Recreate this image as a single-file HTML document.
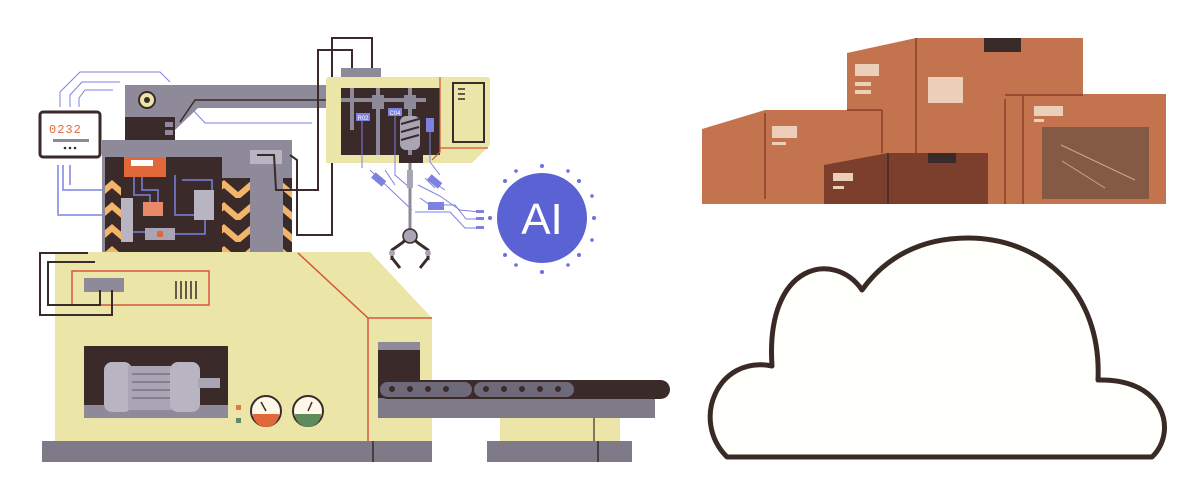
<!DOCTYPE html>
<html><head><meta charset="utf-8"><style>
html,body{margin:0;padding:0;background:#fff;width:1204px;height:500px;overflow:hidden}
svg{display:block}
</style></head><body>
<svg width="1204" height="500" viewBox="0 0 1204 500" xmlns="http://www.w3.org/2000/svg">
<defs>
<pattern id="haz" width="28" height="22" patternUnits="userSpaceOnUse">
<rect width="28" height="22" fill="#3a2a2a"/>
<path d="M0,4 L14,16 L28,4 L28,12 L14,24 L0,12Z" fill="#f2b56a"/>
</pattern>
</defs>
<!-- bases -->
<rect x="42" y="441" width="390" height="21" fill="#7e7a88"/>
<line x1="373" y1="441" x2="373" y2="462" stroke="#3a2a2a" stroke-width="1.5"/>
<rect x="487" y="441" width="145" height="21" fill="#7e7a88"/>
<line x1="598" y1="441" x2="598" y2="462" stroke="#3a2a2a" stroke-width="1.5"/>
<rect x="500" y="412" width="120" height="29" fill="#ebe5a8"/>
<line x1="594" y1="412" x2="594" y2="441" stroke="#3a2a2a" stroke-width="1.2"/>
<!-- main yellow body -->
<path d="M55,252 L370,252 L432,318 L432,441 L55,441Z" fill="#ebe5a8"/>
<path d="M298,253 L368,318 L432,318 M368,318 L368,441" stroke="#d4563a" stroke-width="1.5" fill="none"/>
<rect x="72" y="271" width="137" height="34" fill="none" stroke="#d4563a" stroke-width="1.5"/>
<rect x="84" y="278" width="40" height="14" fill="#8f8a99"/>
<g stroke="#3a2a2a" stroke-width="1.5"><line x1="176" y1="281" x2="176" y2="299"/><line x1="181" y1="281" x2="181" y2="299"/><line x1="186" y1="281" x2="186" y2="299"/><line x1="191" y1="281" x2="191" y2="299"/><line x1="196" y1="281" x2="196" y2="299"/></g>
<!-- motor window -->
<rect x="84" y="346" width="144" height="72" fill="#3a2a2a"/>
<rect x="84" y="405" width="144" height="13" fill="#8f8a99"/>
<rect x="104" y="362" width="28" height="50" rx="8" fill="#b8b4c2"/>
<rect x="128" y="366" width="52" height="44" fill="#a9a5b5"/>
<g stroke="#6e6a7a" stroke-width="1.2"><line x1="132" y1="374" x2="176" y2="374"/><line x1="132" y1="382" x2="176" y2="382"/><line x1="132" y1="390" x2="176" y2="390"/><line x1="132" y1="398" x2="176" y2="398"/></g>
<rect x="170" y="362" width="30" height="50" rx="8" fill="#b8b4c2"/>
<rect x="198" y="378" width="22" height="10" fill="#a9a5b5"/>
<rect x="236" y="405" width="5" height="5" fill="#e07a3a"/>
<rect x="236" y="418" width="5" height="5" fill="#5f8a6a"/>
<g stroke="#3a2a2a" stroke-width="2"><circle cx="266" cy="411" r="15" fill="#fff8e8"/><circle cx="308" cy="411" r="15" fill="#fff8e8"/></g>
<path d="M253,414 A13,13 0 0 0 279,414Z" fill="#e0683a"/>
<path d="M295,414 A13,13 0 0 0 321,414Z" fill="#5f8a5a"/>
<line x1="266" y1="411" x2="261" y2="402" stroke="#3a2a2a" stroke-width="1.5"/>
<line x1="308" y1="411" x2="312" y2="402" stroke="#3a2a2a" stroke-width="1.5"/>
<!-- conveyor opening -->
<rect x="378" y="342" width="42" height="74" fill="#3a2a2a"/>
<rect x="378" y="342" width="42" height="8" fill="#8f8a99"/>
<rect x="378" y="398" width="277" height="20" fill="#7e7a88"/>
<rect x="378" y="380" width="292" height="19" rx="9.5" fill="#3a2a2a"/>
<rect x="380" y="382" width="92" height="15" rx="7.5" fill="#6e6a7a"/>
<rect x="474" y="382" width="100" height="15" rx="7.5" fill="#6e6a7a"/>
<g fill="#3a2a2a"><circle cx="392" cy="389" r="3"/><circle cx="410" cy="389" r="3"/><circle cx="428" cy="389" r="3"/><circle cx="446" cy="389" r="3"/><circle cx="486" cy="389" r="3"/><circle cx="504" cy="389" r="3"/><circle cx="522" cy="389" r="3"/><circle cx="540" cy="389" r="3"/><circle cx="558" cy="389" r="3"/></g>
<!-- upper machine -->
<rect x="102" y="140" width="190" height="112" fill="#8f8a99"/>
<rect x="105" y="157" width="117" height="95" fill="#3a2a2a"/>
<rect x="105" y="178" width="16" height="74" fill="url(#haz)"/>
<rect x="222" y="178" width="28" height="74" fill="url(#haz)"/>
<rect x="283" y="178" width="9" height="74" fill="url(#haz)"/>
<rect x="250" y="150" width="32" height="14" fill="#b8b4c2"/>
<rect x="124" y="157" width="42" height="12" fill="#e0683a"/>
<rect x="131" y="160" width="22" height="6" fill="#fff"/>
<rect x="124" y="169" width="42" height="8" fill="#e0683a"/>
<rect x="143" y="202" width="20" height="14" fill="#e88a6a"/>
<rect x="194" y="190" width="20" height="30" fill="#b8b4c2"/>
<rect x="121" y="198" width="12" height="44" fill="#b8b4c2"/>
<rect x="145" y="228" width="30" height="12" fill="#a9a5b5"/>
<rect x="157" y="231" width="6" height="6" fill="#e0683a"/>
<g stroke="#7d82e0" stroke-width="1.5" fill="none">
<path d="M134,177 L134,195 L150,195 L150,202"/><path d="M142,177 L142,190 L158,190 L158,202"/>
<path d="M175,175 L175,215 L194,215"/><path d="M182,180 L212,180 L212,190"/>
<path d="M133,232 L145,232"/><path d="M175,234 L205,234 L205,220"/>
<path d="M63,165 L63,190 L104,190"/><path d="M70,165 L70,185"/><path d="M58,165 L58,215 L104,215"/>
</g>
<!-- arm -->
<path d="M125,85 L330,85 L330,108 L198,108 L175,130 L175,140 L125,140Z" fill="#8f8a99"/>
<rect x="125" y="117" width="50" height="23" fill="#3a2a2a"/>
<rect x="165" y="122" width="8" height="5" fill="#8f8a99"/><rect x="165" y="130" width="8" height="5" fill="#8f8a99"/>
<circle cx="147" cy="100" r="8" fill="#ebe5a8" stroke="#3a2a2a" stroke-width="2"/>
<circle cx="147" cy="100" r="3" fill="#3a2a2a"/>
<path d="M180,122 L195,100 L330,100" stroke="#3a2a2a" stroke-width="1.5" fill="none"/>
<path d="M193,110 L205,123 L312,123" stroke="#7d82e0" stroke-width="1" fill="none"/>
<!-- meter -->
<rect x="40" y="112" width="60" height="45" rx="3" fill="#fff" stroke="#3a2a2a" stroke-width="3"/>
<rect x="46" y="128" width="48" height="1" fill="#fff"/>
<text x="49" y="133" font-family="Liberation Mono,monospace" font-size="12" fill="#e0683a" letter-spacing="1">0232</text>
<rect x="53" y="139" width="36" height="3" fill="#8f8a99"/>
<g fill="#3a2a2a"><circle cx="65" cy="148" r="1.3"/><circle cx="70" cy="148" r="1.3"/><circle cx="75" cy="148" r="1.3"/></g>
<g stroke="#7d82e0" stroke-width="1" fill="none"><path d="M60,107 L60,92 L80,72 L140,72"/><path d="M70,107 L70,95 L82,82 L120,82"/><path d="M79,107 L79,98 L85,90 L113,90"/><path d="M80,72 L160,72 L170,82"/></g>
<!-- cables -->
<g stroke="#3a2a2a" stroke-width="2" fill="none">
<path d="M88,253 L40,253 L40,315 L112,315 L112,290"/>
<path d="M95,262 L48,262 L48,305 L100,305 L100,290"/>
<path d="M257,155 L274,155 L276,190 L300,190 L318,190 L318,50 L352,50 L352,68"/>
<path d="M290,155 L297,160 L297,235 L332,235 L332,38 L372,38 L372,68"/>
</g>
<!-- control box -->
<path d="M326,80 Q326,77 330,77 L487,77 Q490,77 490,80 L490,145 L472,163 L326,163Z" fill="#ebe5a8"/>
<rect x="341" y="68" width="40" height="9" fill="#8f8a99"/>
<path d="M341,88 L440,88 L440,155 L423,155 L423,163 L399,163 L399,155 L341,155Z" fill="#3a2a2a"/>
<path d="M440,77 L440,152 L432,160 M440,148 L488,148" stroke="#d4563a" stroke-width="1.2" fill="none"/>
<rect x="453" y="83" width="31" height="59" fill="none" stroke="#3a2a2a" stroke-width="2"/>
<g stroke="#3a2a2a" stroke-width="1.5"><line x1="458" y1="89" x2="465" y2="89"/><line x1="458" y1="94" x2="465" y2="94"/><line x1="458" y1="99" x2="465" y2="99"/></g>
<g fill="#8f8a99"><rect x="341" y="98" width="85" height="4"/><rect x="350" y="88" width="4" height="42"/><rect x="376" y="88" width="4" height="67"/><rect x="372" y="95" width="12" height="14"/><rect x="408" y="88" width="4" height="67"/><rect x="404" y="95" width="12" height="14"/></g>
<rect x="400" y="116" width="20" height="34" rx="6" fill="#a9a5b5"/>
<g stroke="#3a2a2a" stroke-width="2"><line x1="401" y1="124" x2="419" y2="119"/><line x1="401" y1="132" x2="419" y2="127"/><line x1="401" y1="140" x2="419" y2="135"/></g>
<rect x="356" y="113" width="14" height="8" fill="#7d82e0"/><text x="363" y="120" font-family="Liberation Sans,sans-serif" font-size="6" fill="#fff" text-anchor="middle">R02</text>
<rect x="388" y="108" width="14" height="8" fill="#7d82e0"/><text x="395" y="115" font-family="Liberation Sans,sans-serif" font-size="6" fill="#fff" text-anchor="middle">C04</text>
<rect x="426" y="118" width="8" height="14" fill="#7d82e0"/>
<!-- wires to claw & AI -->
<g stroke="#7d82e0" stroke-width="1" fill="none">
<path d="M362,121 L362,168"/><path d="M395,116 L395,175 L410,188"/><path d="M430,132 L430,162 L440,175"/>
<path d="M370,170 L412,210"/><path d="M418,185 L440,196 L460,210 L480,212"/><path d="M420,198 L430,205 L455,205 L466,219 L480,219"/><path d="M415,212 L450,212 L465,228 L480,228"/>
<path d="M385,170 L395,185"/><path d="M425,178 L435,188"/><path d="M430,180 L445,190"/>
</g>
<rect x="372" y="176" width="14" height="7" fill="#7d82e0" transform="rotate(40 379 179)"/>
<rect x="428" y="178" width="14" height="7" fill="#7d82e0" transform="rotate(40 435 181)"/>
<rect x="428" y="202" width="16" height="8" fill="#7d82e0"/>
<g fill="#7d82e0"><rect x="476" y="210" width="8" height="3"/><rect x="476" y="217" width="8" height="3"/><rect x="476" y="226" width="8" height="3"/></g>
<!-- claw -->
<line x1="410" y1="163" x2="410" y2="232" stroke="#8f8a99" stroke-width="3"/>
<rect x="407" y="170" width="6" height="18" fill="#a9a5b5"/>
<path d="M392,260 L392,250 L402,243 L410,236 L418,243 L428,250 L428,260" stroke="#3a2a2a" stroke-width="3" fill="none"/>
<path d="M392,258 L400,268 M428,258 L420,268" stroke="#3a2a2a" stroke-width="3"/>
<circle cx="410" cy="236" r="7" fill="#a9a5b5" stroke="#3a2a2a" stroke-width="1.5"/>
<circle cx="392" cy="253" r="3" fill="#a9a5b5"/><circle cx="428" cy="253" r="3" fill="#a9a5b5"/>
<!-- AI -->
<circle cx="542" cy="218" r="45" fill="#5a62d4"/>
<g fill="#6a70e0"><circle cx="542" cy="166" r="2"/><circle cx="542" cy="272" r="2"/><circle cx="490" cy="218" r="2"/><circle cx="594" cy="218" r="2"/><circle cx="505" cy="181" r="2"/><circle cx="579" cy="181" r="2"/><circle cx="505" cy="255" r="2"/><circle cx="579" cy="255" r="2"/><circle cx="516" cy="171" r="1.8"/><circle cx="568" cy="171" r="1.8"/><circle cx="592" cy="196" r="1.8"/><circle cx="592" cy="240" r="1.8"/><circle cx="516" cy="265" r="1.8"/><circle cx="568" cy="265" r="1.8"/></g>
<text x="542" y="234" font-family="Liberation Sans,sans-serif" font-size="44" fill="#fff" text-anchor="middle">AI</text>
<!-- boxes -->
<g fill="#c4734f">
<path d="M847,53 L916,38 L1083,38 L1083,204 L847,204Z"/>
<path d="M702,129 L765,110 L882,110 L882,204 L702,204Z"/>
<path d="M1005,99 L1023,94 L1166,94 L1166,204 L1005,204Z"/>
</g>
<g stroke="#8a4028" stroke-width="1.5"><line x1="916" y1="38" x2="916" y2="153"/><line x1="765" y1="113" x2="765" y2="199"/><line x1="847" y1="110" x2="882" y2="110"/><line x1="882" y1="110" x2="882" y2="153"/><line x1="1023" y1="96" x2="1023" y2="204"/><line x1="1005" y1="99" x2="1005" y2="204"/><line x1="1005" y1="95" x2="1083" y2="95"/></g>
<rect x="984" y="38" width="37" height="14" fill="#3a2a2a"/>
<path d="M824,165 L888,153 L988,153 L988,204 L824,204Z" fill="#7b3f2c"/>
<line x1="888" y1="153" x2="888" y2="204" stroke="#3a2a2a" stroke-width="1.5"/>
<rect x="928" y="153" width="28" height="10" fill="#3a2a2a"/>
<g fill="#ebcfb8"><rect x="855" y="64" width="24" height="12"/><rect x="855" y="82" width="16" height="4"/><rect x="855" y="90" width="16" height="4"/><rect x="928" y="77" width="35" height="26"/><rect x="772" y="126" width="25" height="12"/><rect x="772" y="142" width="14" height="3"/><rect x="1034" y="106" width="29" height="10"/><rect x="1034" y="119" width="10" height="3"/><rect x="833" y="173" width="20" height="8"/><rect x="833" y="186" width="11" height="3"/></g>
<rect x="1042" y="127" width="107" height="72" fill="#845a44"/>
<g stroke="#c8a890" stroke-width="1"><line x1="1061" y1="145" x2="1135" y2="180"/><line x1="1062" y1="161" x2="1105" y2="188"/></g>
<!-- cloud -->
<path d="M727,457 L1152,457 C1178,432 1165,378 1098,380 C1102,290 1040,238 968,238 C920,238 885,258 862,290 C835,250 765,262 772,366 C718,355 690,420 727,457 Z" fill="#fffffb" stroke="#3a2a25" stroke-width="5" stroke-linejoin="round"/>
</svg>
</body></html>
